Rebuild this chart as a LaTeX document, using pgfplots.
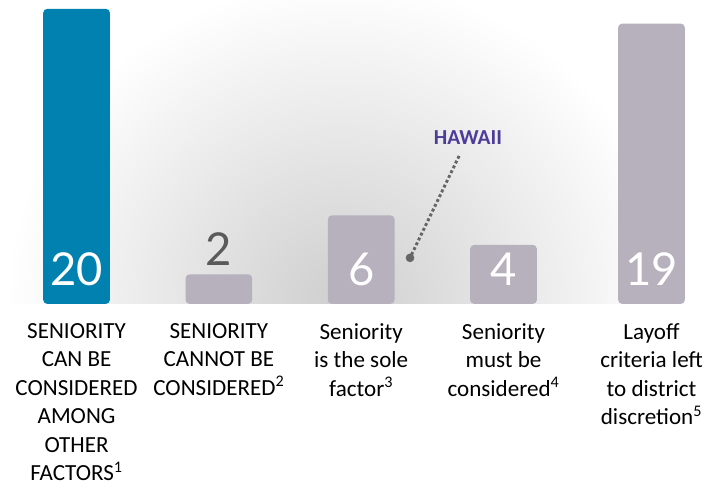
\documentclass[border=0pt]{standalone}
\usepackage{pgfplots}
\pgfplotsset{compat=1.18}
\usepackage{fontspec}
\setmainfont{Carlito}
\newfontfamily\numfont{Lato}
\definecolor{barblue}{HTML}{0081B0}
\definecolor{bargray}{HTML}{B7B1BE}
\definecolor{numgray}{HTML}{5A5A5A}
\definecolor{hawaii}{HTML}{4D3C98}
\definecolor{dotgray}{HTML}{666666}

\begin{document}
\begin{tikzpicture}
\begin{axis}[
  x=106.7pt, y=11.06pt,
  xmin=-0.538, xmax=4.458, ymin=0, ymax=20.6,
  enlargelimits=false,
  axis line style={draw=none}, tick style={draw=none},
  ytick=\empty,
  xtick={0,1,2,3,4.04},
  xticklabels={
    {SENIORITY\\CAN BE\\CONSIDERED\\AMONG\\OTHER\\FACTORS\textsuperscript{1}},
    {SENIORITY\\CANNOT BE\\CONSIDERED\textsuperscript{2}},
    {Seniority\\is the sole\\factor\textsuperscript{3}},
    {Seniority\\must be\\considered\textsuperscript{4}},
    {Layoff\\criteria left\\to district\\discretion\textsuperscript{5}}},
  xticklabel style={font=\fontsize{17.3}{21.3}\selectfont, align=center,
    anchor=north, inner sep=0pt, yshift=-14.5pt},
]
% soft grey glow behind the bars
\shade[inner color=black!19, outer color=white]
  (axis cs:1.85,0.27) ellipse [x radius=250pt, y radius=240pt];

\addplot[ybar, bar width=50pt, bar shift=0pt, fill=barblue, draw=none,
  rounded corners=3pt] coordinates {(0,20)};
\addplot[ybar, bar width=50pt, bar shift=0pt, fill=bargray, draw=none,
  rounded corners=3pt] coordinates {(1,2) (2,6) (3,4) (4.04,19)};

% value labels
\addplot[draw=none, mark=none, nodes near coords, point meta=explicit symbolic,
  nodes near coords style={font=\numfont\fontsize{34}{34}\selectfont,
    text=white, anchor=base, yshift=14pt, inner sep=0pt}]
  coordinates {(0,0)[20] (2,0)[6] (3,0)[4] (4.04,0)[19]};
\addplot[draw=none, mark=none, nodes near coords, point meta=explicit symbolic,
  nodes near coords style={font=\numfont\fontsize{34}{34}\selectfont,
    text=numgray, anchor=base, yshift=6.8pt, inner sep=0pt}]
  coordinates {(1,2)[2]};

% Hawaii callout
\addplot[dotgray, line width=2.2pt, dash pattern=on 2.2pt off 1.8pt]
  coordinates {(2.688,10.03) (2.343,3.12)};
\addplot[dotgray, only marks, mark=*, mark size=3pt] coordinates {(2.343,3.12)};
\node[text=hawaii, font=\bfseries\fontsize{16}{16}\selectfont]
  at (axis cs:2.75,11.25) {HAWAII};
\end{axis}
\path (current axis.south west) ++(0,-138pt) rectangle (current axis.north east);
\end{tikzpicture}
\end{document}
